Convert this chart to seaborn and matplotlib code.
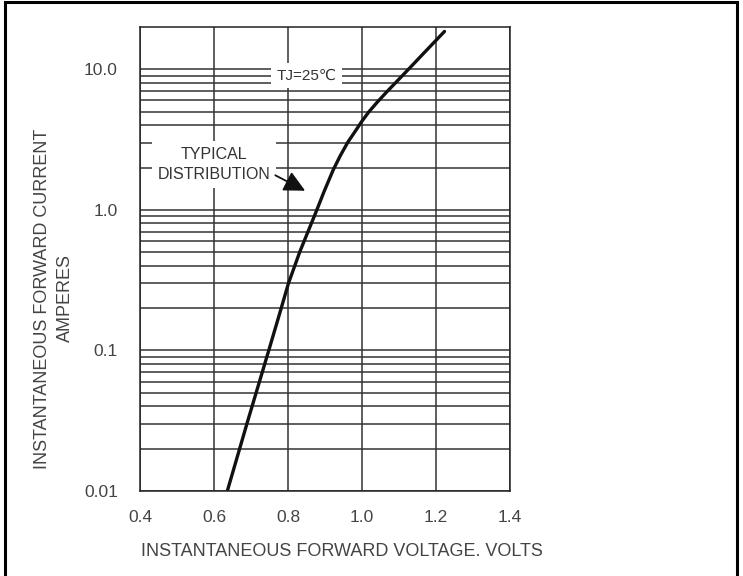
import numpy as np
import pandas as pd
import matplotlib
matplotlib.use('Agg')
import matplotlib.pyplot as plt
import seaborn as sns
from matplotlib.ticker import FixedLocator, NullFormatter
from matplotlib.patches import Rectangle

# valeurs (tension en V, courant en A)
voltage = [0.636, 0.691, 0.747, 0.779, 0.801, 0.832, 0.878, 0.897, 0.922, 0.941,
           0.962, 0.980, 1.000, 1.018, 1.041, 1.066, 1.123, 1.169, 1.223]
current = [0.01, 0.0314, 0.098, 0.189, 0.299, 0.504, 1.0, 1.34, 1.92, 2.42,
           3.04, 3.57, 4.28, 4.96, 5.83, 6.87, 9.84, 13.2, 18.6]

x_ticks = [0.4, 0.6, 0.8, 1.0, 1.2, 1.4]
x_labels = ['0.4', '0.6', '0.8', '1.0', '1.2', '1.4']
y_ticks = [0.01, 0.1, 1.0, 10.0]
y_labels = ['0.01', '0.1', '1.0', '10.0']

df = pd.DataFrame({'V': voltage, 'I': current})

sns.set_theme(style='white')
plt.rcParams['font.family'] = ['Liberation Sans', 'DejaVu Sans']

fig = plt.figure(figsize=(7.43, 5.76), dpi=100)
ax = fig.add_axes([140 / 743, 1 - 491 / 576, 370 / 743, 464 / 576])

sns.lineplot(data=df, x='V', y='I', ax=ax, color='#111111', linewidth=2.4)
ax.lines[0].set_solid_joinstyle('round')

ax.set_yscale('log')
ax.set_xlim(0.4, 1.4)
ax.set_ylim(0.01, 20)

ax.set_xticks(x_ticks)
ax.set_xticklabels(x_labels)
ax.set_yticks(y_ticks)
ax.set_yticklabels(y_labels)
minor = [m * 10.0 ** e for e in range(-2, 1) for m in range(2, 10)]
ax.yaxis.set_minor_locator(FixedLocator(minor))
ax.yaxis.set_minor_formatter(NullFormatter())

ax.grid(True, which='major', axis='both', color='#333333', linewidth=1.1)
ax.grid(True, which='minor', axis='y', color='#333333', linewidth=1.1)
ax.tick_params(axis='both', which='both', length=0, labelsize=12.5,
               labelcolor='#444444')
ax.tick_params(axis='x', pad=14)
ax.tick_params(axis='y', pad=16)
for s in ax.spines.values():
    s.set_color('#222222')
    s.set_linewidth(1.1)

ax.set_xlabel('INSTANTANEOUS FORWARD VOLTAGE. VOLTS', fontsize=13,
              color='#444444', va='center')
ax.xaxis.set_label_coords(0.545, -0.131)
ax.set_ylabel('INSTANTANEOUS FORWARD CURRENT\nAMPERES', fontsize=13,
              color='#444444', linespacing=1.5, va='center')
ax.yaxis.set_label_coords(-0.232, 0.415)

# annotations
ax.text(0.851, 9.0, 'TJ=25℃', fontsize=11, color='#333333', ha='center', va='center',
        bbox=dict(facecolor='white', edgecolor='none', pad=4), zorder=5)
ax.text(0.60, 2.1, 'TYPICAL\nDISTRIBUTION', fontsize=11.5, color='#333333',
        ha='center', va='center', linespacing=1.45,
        bbox=dict(facecolor='white', edgecolor='none', pad=4), zorder=5)
ax.annotate('', xy=(0.853, 1.34), xytext=(0.759, 1.8),
            arrowprops=dict(arrowstyle='-|>,head_length=0.8,head_width=0.4',
                            color='#111111', lw=1.3, mutation_scale=16), zorder=6)

# cadre autour de la figure
fig.patches.append(Rectangle((5 / 743, -0.01), 732 / 743, 1.0065, transform=fig.transFigure,
                             fill=False, edgecolor='black', linewidth=2.2))

fig.savefig('out.png', dpi=100, facecolor='white')
